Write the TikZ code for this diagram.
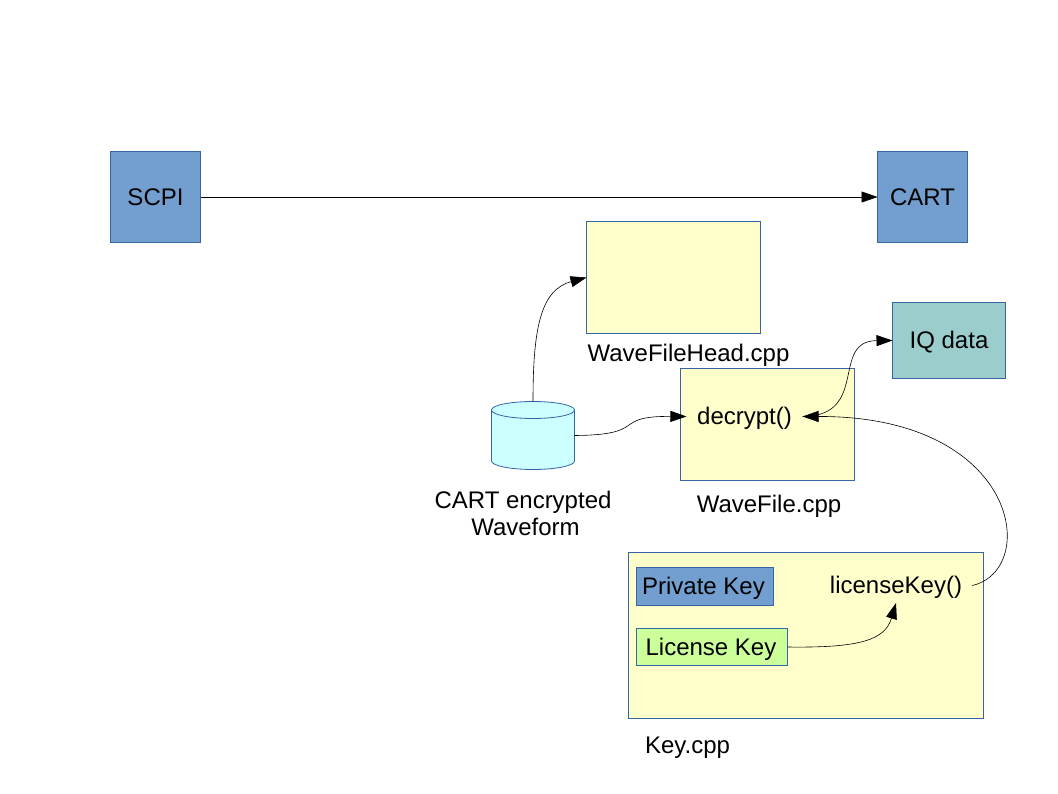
\documentclass[tikz,border=0pt]{standalone}
\usepackage{fontspec}
\setmainfont{Liberation Sans}
\usetikzlibrary{arrows.meta,shapes.geometric,positioning}
\definecolor{boxblue}{HTML}{729FCF}
\definecolor{boxedge}{HTML}{3465A4}
\definecolor{boxyellow}{HTML}{FFFFCC}
\definecolor{boxcyan}{HTML}{CCFFFF}
\definecolor{boxteal}{HTML}{9CCDCD}
\definecolor{boxgreen}{HTML}{CCFF99}
\tikzset{
    box/.style={draw=boxedge, line width=0.8pt, inner sep=0pt, outer sep=0pt, anchor=north west},
    lbl/.style={inner sep=0pt, font=\fontsize{24}{27}\selectfont, text=black},
    linelbl/.style={lbl, text height=16.5pt, text depth=0pt},
    conn/.style={line width=0.6pt, -{Triangle[length=16pt,width=11pt]}},
}
\begin{document}
\begin{tikzpicture}[x=1pt, y=-1pt]
    \useasboundingbox (0, 0) rectangle (1058, 794);
    % boxes
    \node[box, fill=boxblue, minimum width=90pt, minimum height=91pt, linelbl] (scpi) at (110.5, 151.5) {SCPI};
    \node[box, fill=boxblue, minimum width=90pt, minimum height=91pt, linelbl] (cart) at (877.5, 151.5) {CART};
    \node[box, fill=boxyellow, minimum width=174pt, minimum height=112pt] (head) at (586.5, 221.5) {};
    \node[box, fill=boxyellow, minimum width=174pt, minimum height=112pt] (wave) at (680.5, 368.5) {};
    \node[box, fill=boxteal, minimum width=113pt, minimum height=76pt, linelbl] (iq) at (892.5, 302.5) {IQ data};
    \node[box, fill=boxyellow, minimum width=355pt, minimum height=166pt] (key) at (628.5, 552.5) {};
    \node[box, fill=boxblue, minimum width=137pt, minimum height=38pt, linelbl] (private) at (636.5, 567.5) {Private Key\hspace*{3pt}};
    \node[box, fill=boxgreen, minimum width=151pt, minimum height=37pt, linelbl] (license) at (636.5, 628.5) {License Key\hspace*{2pt}};
    % database
    \draw[draw=boxedge, line width=0.8pt, fill=boxcyan] (491.5, 410) -- (491.5, 461)
        arc[start angle=180, end angle=360, x radius=41.5pt, y radius=8.5pt] -- (574.5, 410)
        arc[start angle=0, end angle=180, x radius=41.5pt, y radius=8.5pt] -- cycle;
    \draw[draw=boxedge, line width=0.8pt] (491.5, 410)
        arc[start angle=180, end angle=360, x radius=41.5pt, y radius=8.5pt];
    \coordinate (dbtop) at (533, 401.5);
    \coordinate (dbright) at (574.5, 435.5);
    % labels
    \node[linelbl] (headlbl) at (688.5, 353) {WaveFileHead.cpp};
    \node[linelbl, inner xsep=10.5pt] (decrypt) at (744.5, 416.5) {decrypt()};
    \node[linelbl] (wavelbl) at (769, 504) {WaveFile.cpp};
    \node[lbl, align=center] (dblbl) at (523, 513.5) {CART encrypted\\\hspace*{5pt}Waveform};
    \node[linelbl, inner xsep=10pt, inner ysep=9pt] (licfn) at (896, 585.5) {licenseKey()};
    \node[linelbl] (keylbl) at (687.5, 745) {Key.cpp};
    % connectors
    \draw[conn] (scpi.east) -- (cart.west);
    \draw[conn] (dbtop) .. controls (533, 330) and (540, 290) .. (head.west);
    \draw[conn] (dbright) .. controls (650, 435) and (610, 416) .. (decrypt.west);
    \draw[conn] (decrypt.east) .. controls (870, 416) and (830, 341) .. (iq.west);
    \draw[conn] (licfn.east) .. controls (1040, 570) and (1020, 416) .. (decrypt.east);
    \draw[conn] (license.east) .. controls (860, 648) and (885, 640) .. (licfn.south);
\end{tikzpicture}
\end{document}
